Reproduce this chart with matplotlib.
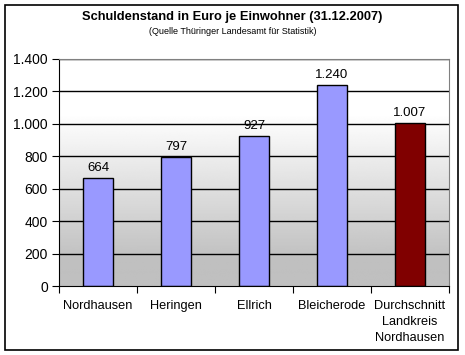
import numpy as np
import matplotlib.pyplot as plt
from matplotlib.patches import Rectangle

plt.rcParams['font.family'] = ['Liberation Sans', 'DejaVu Sans']

orte = ['Nordhausen', 'Heringen', 'Ellrich', 'Bleicherode',
        'Durchschnitt\nLandkreis\nNordhausen']
schulden = [664, 797, 927, 1240, 1007]
farben = ['#9999ff', '#9999ff', '#9999ff', '#9999ff', '#800000']
labels = ['664', '797', '927', '1.240', '1.007']
yticks = [0, 200, 400, 600, 800, 1000, 1200, 1400]
yticklabels = ['0', '200', '400', '600', '800', '1.000', '1.200', '1.400']

fig = plt.figure(figsize=(4.65, 3.55), dpi=100)
ax = fig.add_axes([59 / 465, 1 - 286 / 355, 390 / 465, 227 / 355])

# Hintergrund-Verlauf (weiss oben, grau unten)
yy = np.linspace(0, 1400, 300)
g = np.clip((yy - 150) / (1060 - 150), 0, 1)
g = 0.75 + 0.25 * g
img = np.repeat(g[:, None], 2, axis=1)
ax.imshow(img, cmap='gray', vmin=0, vmax=1, origin='lower',
          extent=[-0.5, 4.5, 0, 1400], aspect='auto', zorder=0)

ax.set_xlim(-0.5, 4.5)
ax.set_ylim(0, 1400)
for t in yticks[1:]:
    ax.axhline(t, color='black', lw=1, zorder=1)

x = np.arange(len(orte))
bars = ax.bar(x, schulden, width=0.39, color=farben, edgecolor='black',
              lw=1, zorder=2)
for xi, v, lab in zip(x, schulden, labels):
    ax.text(xi, v + 25, lab, ha='center', va='bottom', fontsize=9.5, zorder=3)

ax.set_yticks(yticks)
ax.set_yticklabels(yticklabels, fontsize=10)
ax.set_xticks(np.arange(-0.5, 5, 1), minor=False)
ax.set_xticklabels([])
ax.set_xticks(x, minor=True)
ax.set_xticklabels(orte, minor=True, fontsize=9.2, linespacing=1.45)
ax.tick_params(axis='x', which='minor', length=0, pad=10)
ax.tick_params(axis='x', which='major', length=5, direction='out')
ax.tick_params(axis='y', length=5, direction='out', pad=3)
ax.spines['top'].set_color('#808080')
ax.spines['right'].set_color('#808080')

fig.text(0.5, 1 - 17 / 355, 'Schuldenstand in Euro je Einwohner (31.12.2007)',
         ha='center', va='center', fontsize=9.3, fontweight='bold')
fig.text(0.5, 1 - 32 / 355, '(Quelle Thüringer Landesamt für Statistik)',
         ha='center', va='center', fontsize=6.5)

fig.patches.append(Rectangle((5 / 465, 1 - 350 / 355), 453 / 465, 345 / 355,
                             transform=fig.transFigure, fill=False,
                             edgecolor='black', lw=1.2))

fig.savefig('out.png', dpi=100)
